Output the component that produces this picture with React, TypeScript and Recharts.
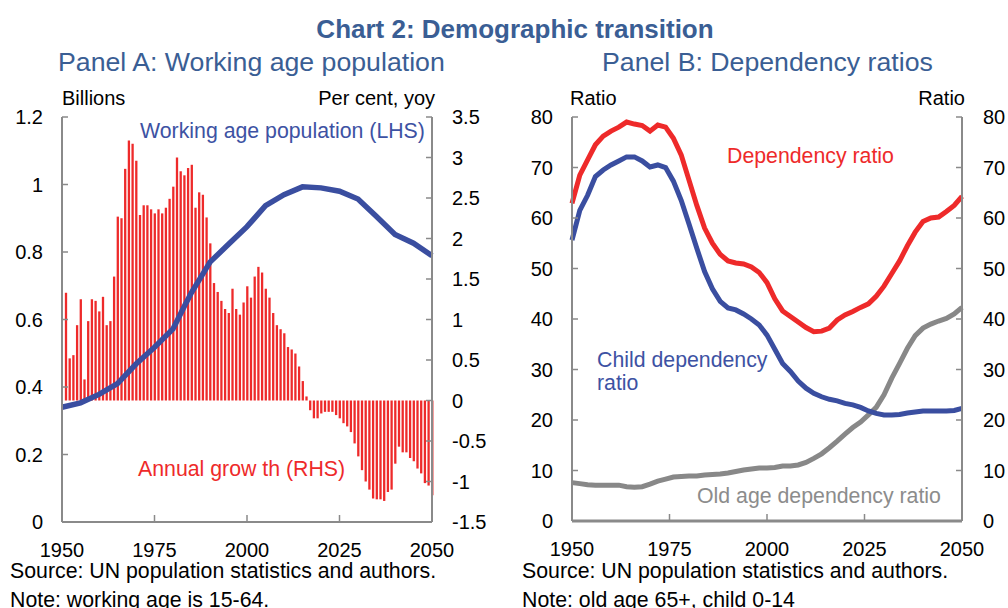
import React from 'react';
import { ComposedChart, LineChart, Bar, Line, XAxis, YAxis } from 'recharts';

// Panel A: annual growth of working age population, per cent (RHS), 1951-2050
const growthStart = 1951;
const growth = [
  1.33, 0.52, 0.56, 0.93, 1.25, 0.26, 0.98, 1.25, 1.23, 1.10,
  1.28, 0.93, 0.98, 1.53, 2.27, 2.25, 2.86, 3.21, 3.17, 2.96,
  2.29, 2.41, 2.41, 2.36, 2.31, 2.36, 2.31, 2.38, 2.49, 2.64,
  3.00, 2.83, 2.78, 2.87, 2.91, 2.38, 2.57, 2.54, 2.26, 1.94,
  1.45, 1.34, 1.23, 1.13, 1.08, 1.38, 1.13, 1.06, 1.21, 1.41,
  1.27, 1.53, 1.65, 1.58, 1.38, 1.27, 1.08, 0.93, 0.88, 0.83,
  0.66, 0.63, 0.58, 0.42, 0.24, 0.05, -0.12, -0.22, -0.22, -0.16,
  -0.14, -0.14, -0.14, -0.18, -0.22, -0.28, -0.32, -0.39, -0.53, -0.69,
  -0.86, -1.0, -1.1, -1.21, -1.22, -1.22, -1.24, -1.13, -1.1, -0.78,
  -0.57, -0.64, -0.64, -0.71, -0.75, -0.84, -0.9, -1.02, -1.05, -1.17,
];

// Panel A: working age population, billions (LHS)
const popYears = [1950, 1955, 1960, 1965, 1970, 1975, 1980, 1983, 1985, 1990, 1995, 2000, 2005, 2010, 2015, 2020, 2025, 2030, 2035, 2040, 2045, 2050];
const pop = [0.34, 0.353, 0.378, 0.41, 0.468, 0.518, 0.572, 0.638, 0.68, 0.77, 0.823, 0.875, 0.937, 0.97, 0.993, 0.99, 0.98, 0.957, 0.905, 0.852, 0.826, 0.789];

const yearTicks = [1950, 1975, 2000, 2025, 2050];
const leftTicksA = [0, 0.2, 0.4, 0.6, 0.8, 1, 1.2];
const rightTicksA = [-1.5, -1, -0.5, 0, 0.5, 1, 1.5, 2, 2.5, 3, 3.5];

// Panel B: dependency ratios
const ratioYears = [
  1950, 1952, 1954, 1956, 1958, 1960, 1962, 1964, 1966, 1968, 1970, 1972, 1974, 1976, 1978, 1980, 1982,
  1984, 1986, 1988, 1990, 1992, 1994, 1996, 1998, 2000, 2002, 2004, 2006, 2008, 2010, 2012, 2014, 2016,
  2018, 2020, 2022, 2024, 2026, 2028, 2030, 2032, 2034, 2036, 2038, 2040, 2042, 2044, 2046, 2048, 2050,
];
const totalRatio = [
  62.9, 68.5, 71.5, 74.5, 76.2, 77.2, 78.0, 79.0, 78.6, 78.3, 77.2, 78.4, 78.0, 75.8, 72.5, 67.5, 62.5,
  58.0, 55.0, 52.8, 51.5, 51.1, 50.9, 50.3, 49.2, 47.2, 44.0, 41.6, 40.5, 39.4, 38.3, 37.5, 37.6, 38.2,
  39.8, 40.8, 41.5, 42.3, 43.0, 44.5, 46.5, 49.0, 51.5, 54.5, 57.2, 59.3, 60.0, 60.2, 61.3, 62.5, 64.3,
];
const childRatio = [
  55.6, 61.5, 64.5, 68.2, 69.5, 70.5, 71.3, 72.1, 72.1, 71.3, 70.1, 70.5, 70.0, 67.3, 63.5, 58.8, 54.0,
  49.4, 46.0, 43.5, 42.2, 41.8, 41.0, 40.0, 38.8, 36.8, 34.0, 31.2, 29.6, 27.7, 26.3, 25.3, 24.6, 24.1,
  23.8, 23.3, 23.0, 22.5, 21.8, 21.3, 21.0, 21.0, 21.1, 21.4, 21.6, 21.8, 21.8, 21.8, 21.8, 21.9, 22.3,
];
const oldRatio = [
  7.6, 7.4, 7.2, 7.1, 7.1, 7.1, 7.1, 6.8, 6.7, 6.8, 7.3, 7.9, 8.3, 8.7, 8.8, 8.9, 8.9,
  9.1, 9.2, 9.3, 9.5, 9.8, 10.1, 10.3, 10.5, 10.5, 10.6, 10.9, 10.9, 11.1, 11.6, 12.4, 13.3, 14.5,
  15.8, 17.2, 18.5, 19.6, 21.0, 22.5, 25.0, 28.3, 31.2, 34.2, 36.7, 38.2, 39.0, 39.6, 40.1, 41.0, 42.3,
];
const ratioTicks = [0, 10, 20, 30, 40, 50, 60, 70, 80];

const panelA: { year: number; growth?: number; pop?: number }[] = [];
for (let y = 1950; y <= 2050; y++) {
  const row: { year: number; growth?: number; pop?: number } = { year: y };
  const gi = y - growthStart;
  if (gi >= 0 && gi < growth.length) row.growth = growth[gi];
  const pi = popYears.indexOf(y);
  if (pi >= 0) row.pop = pop[pi];
  panelA.push(row);
}

const panelB = ratioYears.map((year, i) => ({
  year,
  total: totalRatio[i],
  child: childRatio[i],
  old: oldRatio[i],
}));

const AXIS = '#8a8a8a';
const RED = '#ee2a2a';
const BLUE = '#3a4ea0';
const GREY = '#888888';
const TITLE = '#3a5e94';
const FONT = '"Liberation Sans", Arial, sans-serif';

const LeftTick = ({ x, y, payload, gap }: any) => (
  <g>
    <line x1={x} y1={y} x2={x + 6} y2={y} stroke={AXIS} strokeWidth={1.5} />
    <text x={x - gap} y={y} dy="0.36em" textAnchor="end" fontSize={20} fill="#000" fontFamily={FONT}>
      {payload.value}
    </text>
  </g>
);

const RightTick = ({ x, y, payload, gap }: any) => (
  <g>
    <line x1={x} y1={y} x2={x - 6} y2={y} stroke={AXIS} strokeWidth={1.5} />
    <text x={x + gap} y={y} dy="0.36em" textAnchor="start" fontSize={20} fill="#000" fontFamily={FONT}>
      {payload.value}
    </text>
  </g>
);

const BottomTick = ({ x, y, payload }: any) => (
  <g>
    <line x1={x} y1={y} x2={x} y2={y - 7} stroke={AXIS} strokeWidth={1.5} />
    <text x={x} y={y + 35} textAnchor="middle" fontSize={20} fill="#000" fontFamily={FONT}>
      {payload.value}
    </text>
  </g>
);

const Txt = ({ x, y, children, size = 21.3, color = '#000', anchor = 'start', bold = false }: any) => (
  <text x={x} y={y} fontSize={size} fill={color} textAnchor={anchor} fontWeight={bold ? 'bold' : 'normal'} fontFamily={FONT}>
    {children}
  </text>
);

export default function App() {
  return (
    <div style={{ position: 'absolute', left: 0, top: 0, width: 1008, height: 608, overflow: 'hidden', background: '#fff', fontFamily: FONT }}>
      <div style={{ position: 'absolute', left: 0, top: 0 }}>
        <ComposedChart width={500} height={580} data={panelA} margin={{ top: 117, right: 0, bottom: 0, left: 0 }}>
          <XAxis
            dataKey="year"
            type="number"
            domain={[1950, 2050]}
            ticks={yearTicks}
            interval={0}
            height={58}
            tickSize={0}
            tickMargin={0}
            axisLine={{ stroke: AXIS, strokeWidth: 2 }}
            tickLine={false}
            tick={<BottomTick />}
          />
          <YAxis
            yAxisId="left"
            orientation="left"
            width={62}
            domain={[0, 1.2]}
            ticks={leftTicksA}
            interval={0}
            tickSize={0}
            tickMargin={0}
            axisLine={{ stroke: AXIS, strokeWidth: 2 }}
            tickLine={false}
            tick={<LeftTick gap={19} />}
          />
          <YAxis
            yAxisId="right"
            orientation="right"
            width={68}
            domain={[-1.5, 3.5]}
            ticks={rightTicksA}
            interval={0}
            tickSize={0}
            tickMargin={0}
            axisLine={{ stroke: AXIS, strokeWidth: 2 }}
            tickLine={false}
            tick={<RightTick gap={20} />}
          />
          <Bar yAxisId="right" dataKey="growth" fill={RED} barSize={2.3} isAnimationActive={false} />
          <Line
            yAxisId="left"
            dataKey="pop"
            type="linear"
            stroke={BLUE}
            strokeWidth={5.5}
            dot={false}
            connectNulls
            isAnimationActive={false}
          />
        </ComposedChart>
      </div>

      <div style={{ position: 'absolute', left: 510, top: 0 }}>
        <LineChart width={498} height={580} data={panelB} margin={{ top: 117, right: 0, bottom: 0, left: 0 }}>
          <XAxis
            dataKey="year"
            type="number"
            domain={[1950, 2050]}
            ticks={yearTicks}
            interval={0}
            height={59}
            tickSize={0}
            tickMargin={0}
            axisLine={{ stroke: AXIS, strokeWidth: 3 }}
            tickLine={false}
            tick={<BottomTick />}
          />
          <YAxis
            yAxisId="left"
            orientation="left"
            width={62}
            domain={[0, 80]}
            ticks={ratioTicks}
            interval={0}
            tickSize={0}
            tickMargin={0}
            axisLine={{ stroke: AXIS, strokeWidth: 2 }}
            tickLine={false}
            tick={<LeftTick gap={19} />}
          />
          <YAxis
            yAxisId="right"
            orientation="right"
            width={46}
            domain={[0, 80]}
            ticks={ratioTicks}
            interval={0}
            tickSize={0}
            tickMargin={0}
            axisLine={{ stroke: AXIS, strokeWidth: 2 }}
            tickLine={false}
            tick={<RightTick gap={21} />}
          />
          <Line yAxisId="left" dataKey="old" type="linear" stroke={GREY} strokeWidth={5} dot={false} isAnimationActive={false} />
          <Line yAxisId="left" dataKey="child" type="linear" stroke={BLUE} strokeWidth={5} dot={false} isAnimationActive={false} />
          <Line yAxisId="right" dataKey="total" type="linear" stroke={RED} strokeWidth={5} dot={false} isAnimationActive={false} />
        </LineChart>
      </div>

      <svg width={1008} height={608} style={{ position: 'absolute', left: 0, top: 0, pointerEvents: 'none' }}>
        <Txt x={515} y={38} size={26} color={TITLE} anchor="middle" bold>Chart 2: Demographic transition</Txt>
        <Txt x={58} y={71} size={26.7} color={TITLE}>Panel A: Working age population</Txt>
        <Txt x={602} y={71} size={26.7} color={TITLE}>Panel B: Dependency ratios</Txt>

        <Txt x={62} y={105} size={20}>Billions</Txt>
        <Txt x={435} y={105} size={20} anchor="end">Per cent, yoy</Txt>
        <Txt x={570} y={105} size={20}>Ratio</Txt>
        <Txt x={965} y={105} size={20} anchor="end">Ratio</Txt>

        <Txt x={140} y={138} color="#3d52a3">Working age population (LHS)</Txt>
        <Txt x={138} y={476} color={RED}>Annual grow th (RHS)</Txt>
        <Txt x={727} y={163} color={RED}>Dependency ratio</Txt>
        <Txt x={597} y={367} color="#3d52a3">Child dependency</Txt>
        <Txt x={597} y={390} color="#3d52a3">ratio</Txt>
        <Txt x={697} y={503} color="#8c8c8c">Old age dependency ratio</Txt>

        <Txt x={10} y={578}>Source: UN population statistics and authors.</Txt>
        <Txt x={10} y={607}>Note: working age is 15-64.</Txt>
        <Txt x={522} y={578}>Source: UN population statistics and authors.</Txt>
        <Txt x={522} y={607}>Note: old age 65+, child 0-14</Txt>
      </svg>
    </div>
  );
}
